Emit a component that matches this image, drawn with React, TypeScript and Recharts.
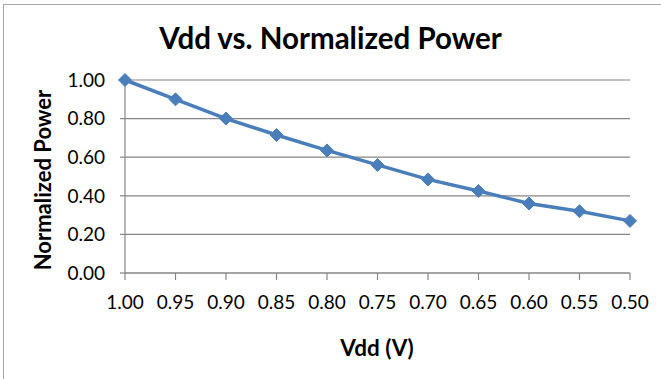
import React from 'react';
import { LineChart, Line, XAxis, YAxis, CartesianGrid } from 'recharts';

const vddLabels = ['1.00', '0.95', '0.90', '0.85', '0.80', '0.75', '0.70', '0.65', '0.60', '0.55', '0.50'];
const normalizedPower = [1.0, 0.9, 0.8, 0.715, 0.635, 0.56, 0.485, 0.425, 0.36, 0.32, 0.27];
const yTicks = [0, 0.2, 0.4, 0.6, 0.8, 1.0];

const data = vddLabels.map((vdd, i) => ({ vdd, power: normalizedPower[i] }));

const FONT = 'Lato, "Liberation Sans", sans-serif';
const BLUE = '#4A7EBB';
const AXIS_GRAY = '#868686';

const Diamond = (props: any) => {
  const { cx, cy } = props;
  if (cx == null || cy == null) return null;
  const r = 6.5;
  return (
    <path
      d={`M${cx},${cy - r} L${cx + r},${cy} L${cx},${cy + r} L${cx - r},${cy} Z`}
      fill={BLUE}
      stroke={BLUE}
      strokeWidth={1}
    />
  );
};

export default function App() {
  return (
    <div
      style={{
        position: 'absolute',
        left: 0,
        top: 0,
        width: 661,
        height: 379,
        background: '#fff',
        fontFamily: FONT,
      }}
    >
      {/* frame */}
      <div
        style={{
          position: 'absolute',
          left: 3,
          top: 4,
          width: 680,
          height: 400,
          borderLeft: '1.5px solid #a6a6a6',
          borderTop: '1.5px solid #a6a6a6',
        }}
      />
      <div
        style={{
          position: 'absolute',
          left: 0,
          top: 19,
          width: 661,
          textAlign: 'center',
          fontSize: 29.5,
          fontWeight: 700,
          color: '#000',
          lineHeight: '38px',
        }}
      >
        Vdd vs. Normalized Power
      </div>
      <div
        style={{
          position: 'absolute',
          left: 42,
          top: 180,
          transform: 'translate(-50%, -50%) rotate(-90deg)',
          whiteSpace: 'nowrap',
          fontSize: 22,
          fontWeight: 700,
          color: '#000',
        }}
      >
        Normalized Power
      </div>
      <div
        style={{
          position: 'absolute',
          left: 377,
          top: 347,
          transform: 'translate(-50%, -50%)',
          whiteSpace: 'nowrap',
          fontSize: 22.5,
          fontWeight: 700,
          color: '#000',
        }}
      >
        Vdd (V)
      </div>
      <div style={{ position: 'absolute', left: 0, top: 0 }}>
        <LineChart
          width={661}
          height={379}
          data={data}
          margin={{ top: 80, right: 31, bottom: 76, left: 65 }}
        >
          <CartesianGrid vertical={false} stroke={AXIS_GRAY} strokeWidth={1.2} />
          <XAxis
            dataKey="vdd"
            stroke={AXIS_GRAY}
            strokeWidth={1.2}
            tickSize={7}
            tickMargin={16}
            height={30}
            interval={0}
            tick={{ fill: '#000', fontSize: 19, fontFamily: FONT }}
          />
          <YAxis
            domain={[0, 1]}
            ticks={yTicks}
            tickFormatter={(v: number) => v.toFixed(2)}
            stroke={AXIS_GRAY}
            strokeWidth={1.2}
            width={60}
            tickSize={5}
            tickMargin={15}
            interval={0}
            tick={{ fill: '#000', fontSize: 19, fontFamily: FONT }}
          />
          <Line
            type="linear"
            dataKey="power"
            stroke={BLUE}
            strokeWidth={3.5}
            dot={<Diamond />}
            activeDot={false}
            isAnimationActive={false}
          />
        </LineChart>
      </div>
    </div>
  );
}
